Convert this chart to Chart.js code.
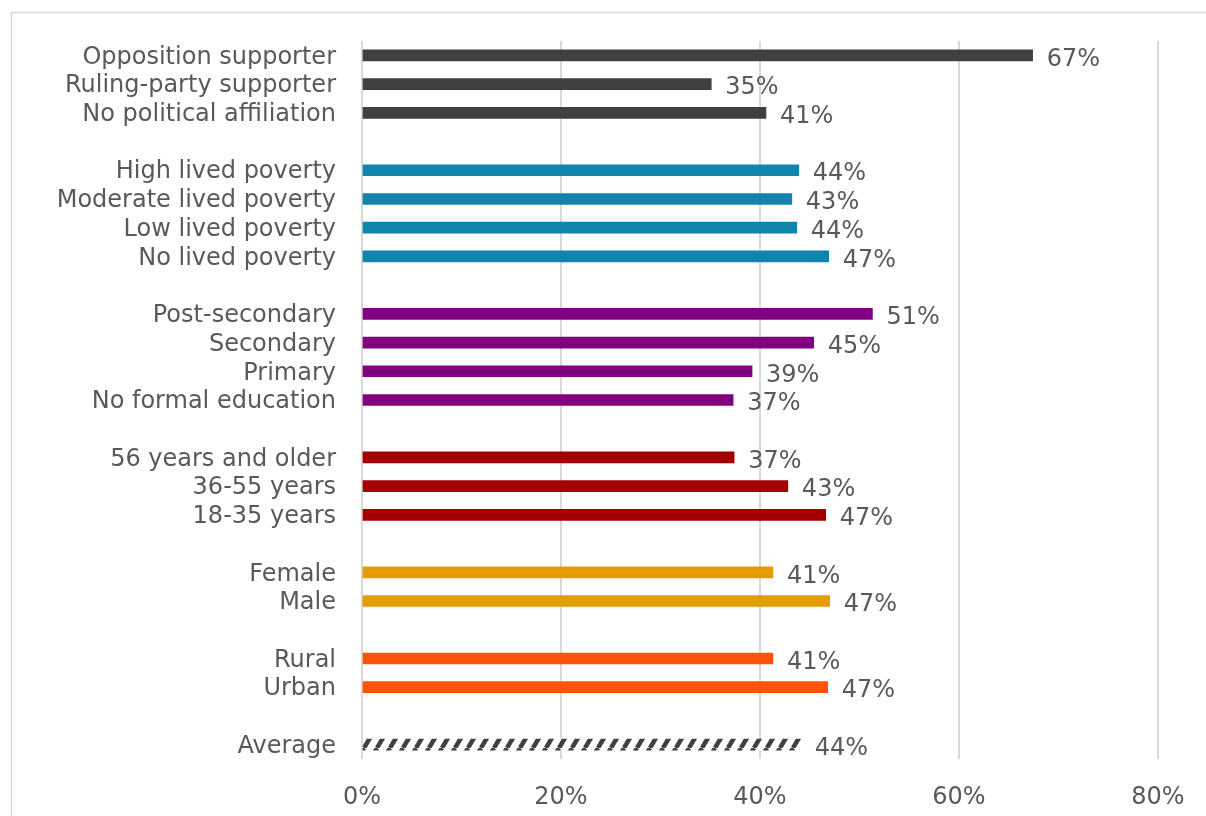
<!DOCTYPE html>
<html>
<head>
<meta charset="utf-8">
<script src="https://cdn.jsdelivr.net/npm/chart.js@4"></script>
<style>
  html, body { margin: 0; padding: 0; background: #fff; overflow: hidden; }
  #wrap { width: 1206px; height: 816px; }
  canvas { display: block; }
</style>
</head>
<body>
<div id="wrap"><canvas id="myChart" width="1206" height="816"></canvas></div>
<script>
// Categories (blank entries are the gaps between groups)
const categories = [
    'Opposition supporter', 'Ruling-party supporter', 'No political affiliation', '',
    'High lived poverty', 'Moderate lived poverty', 'Low lived poverty', 'No lived poverty', '',
    'Post-secondary', 'Secondary', 'Primary', 'No formal education', '',
    '56 years and older', '36-55 years', '18-35 years', '',
    'Female', 'Male', '',
    'Rural', 'Urban', '',
    'Average'
];

// Share (%)
const values = [
    67.4, 35.1, 40.6, null,
    43.9, 43.2, 43.7, 46.9, null,
    51.3, 45.4, 39.2, 37.3, null,
    37.4, 42.8, 46.6, null,
    41.3, 47.0, null,
    41.3, 46.8, null,
    44.1
];

// x axis ticks
const xTicks = [0, 20, 40, 60, 80];

const TEXT = '#595959';
const FONT = '"DejaVu Sans", "Open Sans", sans-serif';
const SIZE = 24;

// hatched fill for the average bar
function makeHatch() {
    const w = 13, h = 22;
    const c = document.createElement('canvas');
    c.width = w; c.height = h;
    const g = c.getContext('2d');
    g.fillStyle = '#ffffff';
    g.fillRect(0, 0, w, h);
    g.strokeStyle = '#404040';
    g.lineWidth = 4.5;
    for (let k = -1; k <= 1; k++) {
        g.beginPath();
        g.moveTo(k * w, h);
        g.lineTo(k * w + w, 0);
        g.stroke();
    }
    return g.createPattern(c, 'repeat');
}

function barColor(i) {
    if (i <= 2) return '#404040';
    if (i <= 7) return '#1184ab';
    if (i <= 12) return '#800080';
    if (i <= 16) return '#a50000';
    if (i <= 19) return '#e59c00';
    if (i <= 22) return '#ff5309';
    return makeHatch();
}

const frame = {
    id: 'frame',
    beforeDraw(chart) {
        const ctx = chart.ctx;
        ctx.save();
        ctx.fillStyle = '#ffffff';
        ctx.fillRect(0, 0, chart.width, chart.height);
        ctx.strokeStyle = '#d9d9d9';
        ctx.lineWidth = 1.5;
        ctx.beginPath();
        ctx.moveTo(11.5, chart.height);
        ctx.lineTo(11.5, 12.5);
        ctx.lineTo(chart.width, 12.5);
        ctx.stroke();
        ctx.restore();
    }
};

const valueLabels = {
    id: 'valueLabels',
    afterDatasetsDraw(chart) {
        const ctx = chart.ctx;
        const meta = chart.getDatasetMeta(0);
        ctx.save();
        ctx.font = SIZE + 'px ' + FONT;
        ctx.fillStyle = TEXT;
        ctx.textAlign = 'left';
        ctx.textBaseline = 'middle';
        meta.data.forEach((bar, i) => {
            if (values[i] == null) return;
            ctx.fillText(Math.round(values[i]) + '%', bar.x + 14, bar.y + 4);
        });
        ctx.restore();
    }
};

const ctx = document.getElementById('myChart').getContext('2d');
const chart = new Chart(ctx, {
    type: 'bar',
    data: {
        labels: categories,
        datasets: [{
            data: values,
            backgroundColor: categories.map((c, i) => barColor(i)),
            barThickness: 11,
            borderWidth: 0
        }]
    },
    options: {
        indexAxis: 'y',
        responsive: false,
        animation: false,
        layout: { padding: { left: 11, right: 48, top: 41, bottom: 0 } },
        plugins: {
            legend: { display: false },
            tooltip: { enabled: false }
        },
        scales: {
            x: {
                min: 0,
                max: 80,
                afterBuildTicks: (scale) => { scale.ticks = xTicks.map(v => ({ value: v })); },
                afterFit: (scale) => {
                    scale.height = 57;
                    scale.paddingLeft = 0;
                    scale.paddingRight = 0;
                },
                grid: { color: '#d9d9d9', lineWidth: 2, drawTicks: false },
                border: { display: false },
                ticks: {
                    padding: 24,
                    color: TEXT,
                    font: { size: SIZE, family: FONT },
                    callback: (v) => v + '%'
                }
            },
            y: {
                afterFit: (scale) => { scale.width = 351; },
                grid: { display: false, drawTicks: false },
                border: { display: false },
                ticks: {
                    padding: 26,
                    labelOffset: 2,
                    color: TEXT,
                    autoSkip: false,
                    font: { size: SIZE, family: FONT }
                }
            }
        }
    },
    plugins: [frame, valueLabels]
});
</script>
</body>
</html>
